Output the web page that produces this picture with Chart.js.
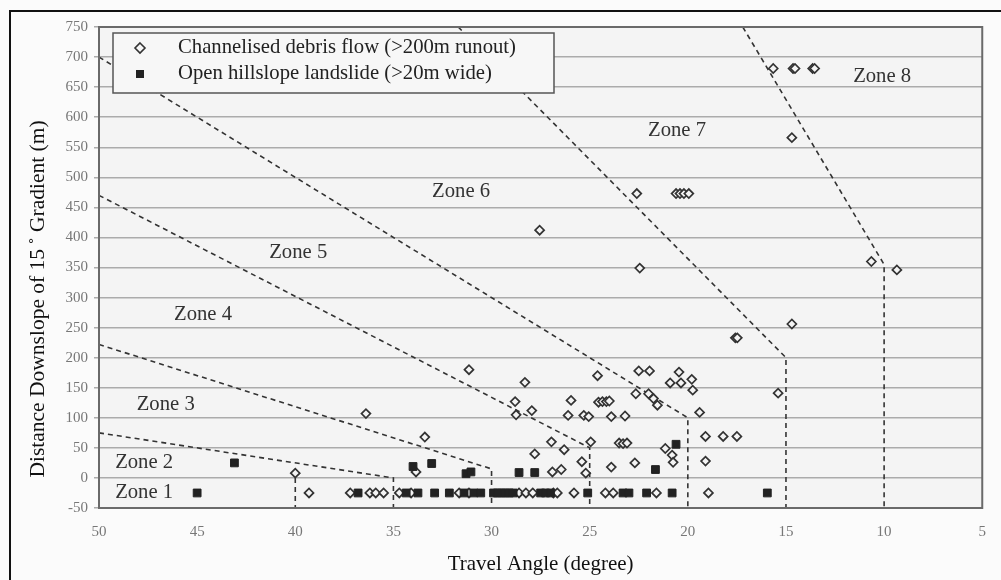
<!DOCTYPE html>
<html>
<head>
<meta charset="utf-8">
<script src="https://cdn.jsdelivr.net/npm/chart.js@4.4.1/dist/chart.umd.min.js"></script>
<style>
  html, body { margin: 0; padding: 0; background: #fbfbfb; }
  canvas { display: block; }
</style>
</head>
<body>
<canvas id="zoneChart" width="1001" height="580"></canvas>
<script>
// travel angle (deg) / distance downslope of 15 deg gradient (m)
const debrisAngle = [
  39.3, 37.2, 36.2, 35.9, 35.5, 34.7, 34.1, 31.65, 31.15, 28.6, 28.25, 27.9, 26.85, 26.65, 25.8, 24.2, 23.8, 21.6, 18.95,
  40, 36.4, 33.4, 33.85, 31.15, 28.3, 28.8, 28.75, 27.95, 25.95, 26.1, 25.3, 25.05, 24.6, 24.55, 24.35, 24.15, 24.0,
  23.9, 23.2, 22.65, 22.0, 21.75, 21.55, 26.95, 26.3, 27.8, 24.95, 25.4, 23.9, 26.9, 26.45, 25.2, 23.5, 23.3, 23.1,
  22.7, 22.5, 21.95, 20.45, 20.9, 20.35, 19.8, 19.75, 19.4, 15.4, 19.1, 18.2, 17.5, 21.15, 20.8, 20.75, 19.1,
  17.58, 17.48, 15.65, 14.64, 14.54, 13.64, 13.54, 14.7, 14.7, 22.6, 20.6, 20.4, 20.2, 19.95, 27.55, 22.45, 10.65, 9.35
];
const debrisDistance = [
  -25, -25, -25, -25, -25, -25, -25, -25, -25, -25, -25, -25, -25, -25, -25, -25, -25, -25, -25,
  8, 107, 68, 10, 180, 159, 127, 105, 112, 129, 104, 104, 102, 170, 126, 127, 127, 128,
  102, 103, 140, 140, 132, 121, 60, 47, 40, 60, 27, 18, 10, 14, 8, 58, 57, 58,
  25, 178, 178, 176, 158, 158, 164, 146, 109, 141, 69, 69, 69, 49, 38, 26, 28,
  233, 233, 681, 681, 681, 681, 681, 566, 256, 473, 473, 473, 473, 473, 412, 349, 360, 346
];
const landslideAngle = [
  45, 36.8, 34.35, 33.75, 32.9, 32.15, 31.4, 30.9, 30.55, 29.9, 29.7, 29.5, 29.3, 29.1, 28.9,
  27.5, 27.25, 27.0, 25.1, 23.3, 23.0, 22.1, 20.8, 15.95,
  43.1, 34.0, 33.05, 31.3, 31.05, 28.6, 27.8, 21.65, 20.6
];
const landslideDistance = [
  -25, -25, -25, -25, -25, -25, -25, -25, -25, -25, -25, -25, -25, -25, -25,
  -25, -25, -25, -25, -25, -25, -25, -25, -25,
  25, 19, 24, 7, 10, 9, 9, 14, 56
];

// zone boundaries (angle, distance)
const boundary12 = [[50, 75], [35, 0], [35, -50]];
const boundary12b = [[40, 0], [40, -50]];
const boundary23 = [[50, 222], [30, 15], [30, -50]];
const boundary34 = [[50, 470], [25, 50], [25, -50]];
const boundary45 = [[50, 700], [20, 100], [20, -50]];
const boundary67 = [[31.7, 750], [15, 200], [15, -50]];
const boundary78 = [[17.2, 750], [10, 355], [10, -50]];

const zoneNames = ["Zone 1", "Zone 2", "Zone 3", "Zone 4", "Zone 5", "Zone 6", "Zone 7", "Zone 8"];
const zoneAngle = [47.7, 47.7, 46.6, 44.7, 39.85, 31.55, 20.55, 10.1];
const zoneDistance = [-25, 25, 122, 271, 374, 476, 577, 668];

const xTicks = [50, 45, 40, 35, 30, 25, 20, 15, 10, 5];
const seriesNames = ["Channelised debris flow (>200m runout)", "Open hillslope landslide (>20m wide)"];
const yTitle = "Distance Downslope of 15\u2009\u02DA Gradient (m)";

const SERIF = "'Liberation Serif', 'Times New Roman', serif";

const toPoints = (xs, ys) => xs.map((x, i) => ({ x: x, y: ys[i] }));
const toLine = pairs => pairs.map(p => ({ x: p[0], y: p[1] }));

const lineSet = pairs => ({
  type: "line",
  data: toLine(pairs),
  borderColor: "#333",
  borderWidth: 1.6,
  borderDash: [5, 4],
  pointRadius: 0,
  fill: false,
  tension: 0,
  order: 5
});

const framePlugin = {
  id: "frame",
  beforeDraw(chart) {
    const ctx = chart.ctx;
    const a = chart.chartArea;
    ctx.save();
    ctx.fillStyle = "#fbfbfb";
    ctx.fillRect(0, 0, chart.width, chart.height);
    ctx.fillStyle = "#f4f4f4";
    ctx.fillRect(a.left, a.top, a.right - a.left, a.bottom - a.top);
    // outer figure frame
    ctx.strokeStyle = "#111";
    ctx.lineWidth = 2;
    ctx.beginPath();
    ctx.moveTo(10, chart.height);
    ctx.lineTo(10, 11);
    ctx.lineTo(chart.width, 11);
    ctx.stroke();
    // y axis title, set a little below the axis centre like the original
    ctx.translate(38, 299);
    ctx.rotate(-Math.PI / 2);
    ctx.fillStyle = "#111";
    ctx.font = "21.5px " + SERIF;
    ctx.textAlign = "center";
    ctx.textBaseline = "middle";
    ctx.fillText(yTitle, 0, 0);
    ctx.restore();
  },
  afterDatasetsDraw(chart) {
    const ctx = chart.ctx;
    const a = chart.chartArea;
    const xs = chart.scales.x, ys = chart.scales.y;
    ctx.save();
    ctx.strokeStyle = "#6a6a6a";
    ctx.lineWidth = 2;
    ctx.strokeRect(a.left, a.top, a.right - a.left, a.bottom - a.top);

    // zone labels
    ctx.fillStyle = "#333";
    ctx.font = "20.7px " + SERIF;
    ctx.textAlign = "center";
    ctx.textBaseline = "middle";
    zoneNames.forEach((name, i) => {
      ctx.fillText(name, xs.getPixelForValue(zoneAngle[i]), ys.getPixelForValue(zoneDistance[i]));
    });

    // legend box
    const lx = 113, ly = 33, lw = 441, lh = 60;
    ctx.fillStyle = "#f7f7f7";
    ctx.fillRect(lx, ly, lw, lh);
    ctx.strokeStyle = "#555";
    ctx.lineWidth = 1.5;
    ctx.strokeRect(lx, ly, lw, lh);

    const rows = [ly + 15, ly + 41];
    ctx.beginPath();
    ctx.moveTo(140, rows[0] - 5);
    ctx.lineTo(145, rows[0]);
    ctx.lineTo(140, rows[0] + 5);
    ctx.lineTo(135, rows[0]);
    ctx.closePath();
    ctx.fillStyle = "#f7f7f7";
    ctx.fill();
    ctx.strokeStyle = "#333";
    ctx.lineWidth = 1.6;
    ctx.stroke();
    ctx.fillStyle = "#222";
    ctx.fillRect(136, rows[1] - 4, 8, 8);

    ctx.fillStyle = "#222";
    ctx.textAlign = "left";
    ctx.font = "20.7px " + SERIF;
    ctx.fillText(seriesNames[0], 178, rows[0]);
    ctx.fillText(seriesNames[1], 178, rows[1]);
    ctx.restore();
  }
};

const chart = new Chart(document.getElementById("zoneChart").getContext("2d"), {
  type: "scatter",
  data: {
    datasets: [
      {
        label: seriesNames[0],
        data: toPoints(debrisAngle, debrisDistance),
        pointStyle: "rectRot",
        pointRadius: 4.5,
        pointBorderWidth: 1.7,
        pointBorderColor: "#333",
        pointBackgroundColor: "#f4f4f4",
        order: 1
      },
      {
        label: seriesNames[1],
        data: toPoints(landslideAngle, landslideDistance),
        pointStyle: "rect",
        pointRadius: 5.5,
        pointBorderWidth: 1,
        pointBorderColor: "#222",
        pointBackgroundColor: "#222",
        order: 0
      },
      lineSet(boundary12),
      lineSet(boundary12b),
      lineSet(boundary23),
      lineSet(boundary34),
      lineSet(boundary45),
      lineSet(boundary67),
      lineSet(boundary78)
    ]
  },
  options: {
    responsive: false,
    animation: false,
    devicePixelRatio: 1,
    layout: { padding: { left: 10, right: 12, top: 27, bottom: 0 } },
    plugins: {
      legend: { display: false },
      tooltip: { enabled: false }
    },
    scales: {
      x: {
        type: "linear",
        reverse: true,
        min: 5,
        max: 50,
        afterBuildTicks: scale => { scale.ticks = xTicks.map(v => ({ value: v })); },
        afterFit: scale => { scale.height = 72; },
        grid: { display: false, drawTicks: false },
        border: { display: false },
        ticks: {
          color: "#777",
          font: { family: SERIF, size: 15 },
          padding: 15,
          maxRotation: 0
        },
        title: {
          display: true,
          text: "Travel Angle (degree)",
          color: "#111",
          font: { family: SERIF, size: 21 },
          padding: { top: 0, bottom: 3 }
        }
      },
      y: {
        type: "linear",
        min: -50,
        max: 750,
        afterFit: scale => { scale.width = 89; },
        ticks: {
          stepSize: 50,
          color: "#777",
          font: { family: SERIF, size: 15 },
          padding: 6
        },
        grid: {
          color: "#ababab",
          lineWidth: 1.5,
          tickLength: 5,
          drawTicks: true
        },
        border: { display: false },
        title: { display: false }
      }
    }
  },
  plugins: [framePlugin]
});
</script>
</body>
</html>
